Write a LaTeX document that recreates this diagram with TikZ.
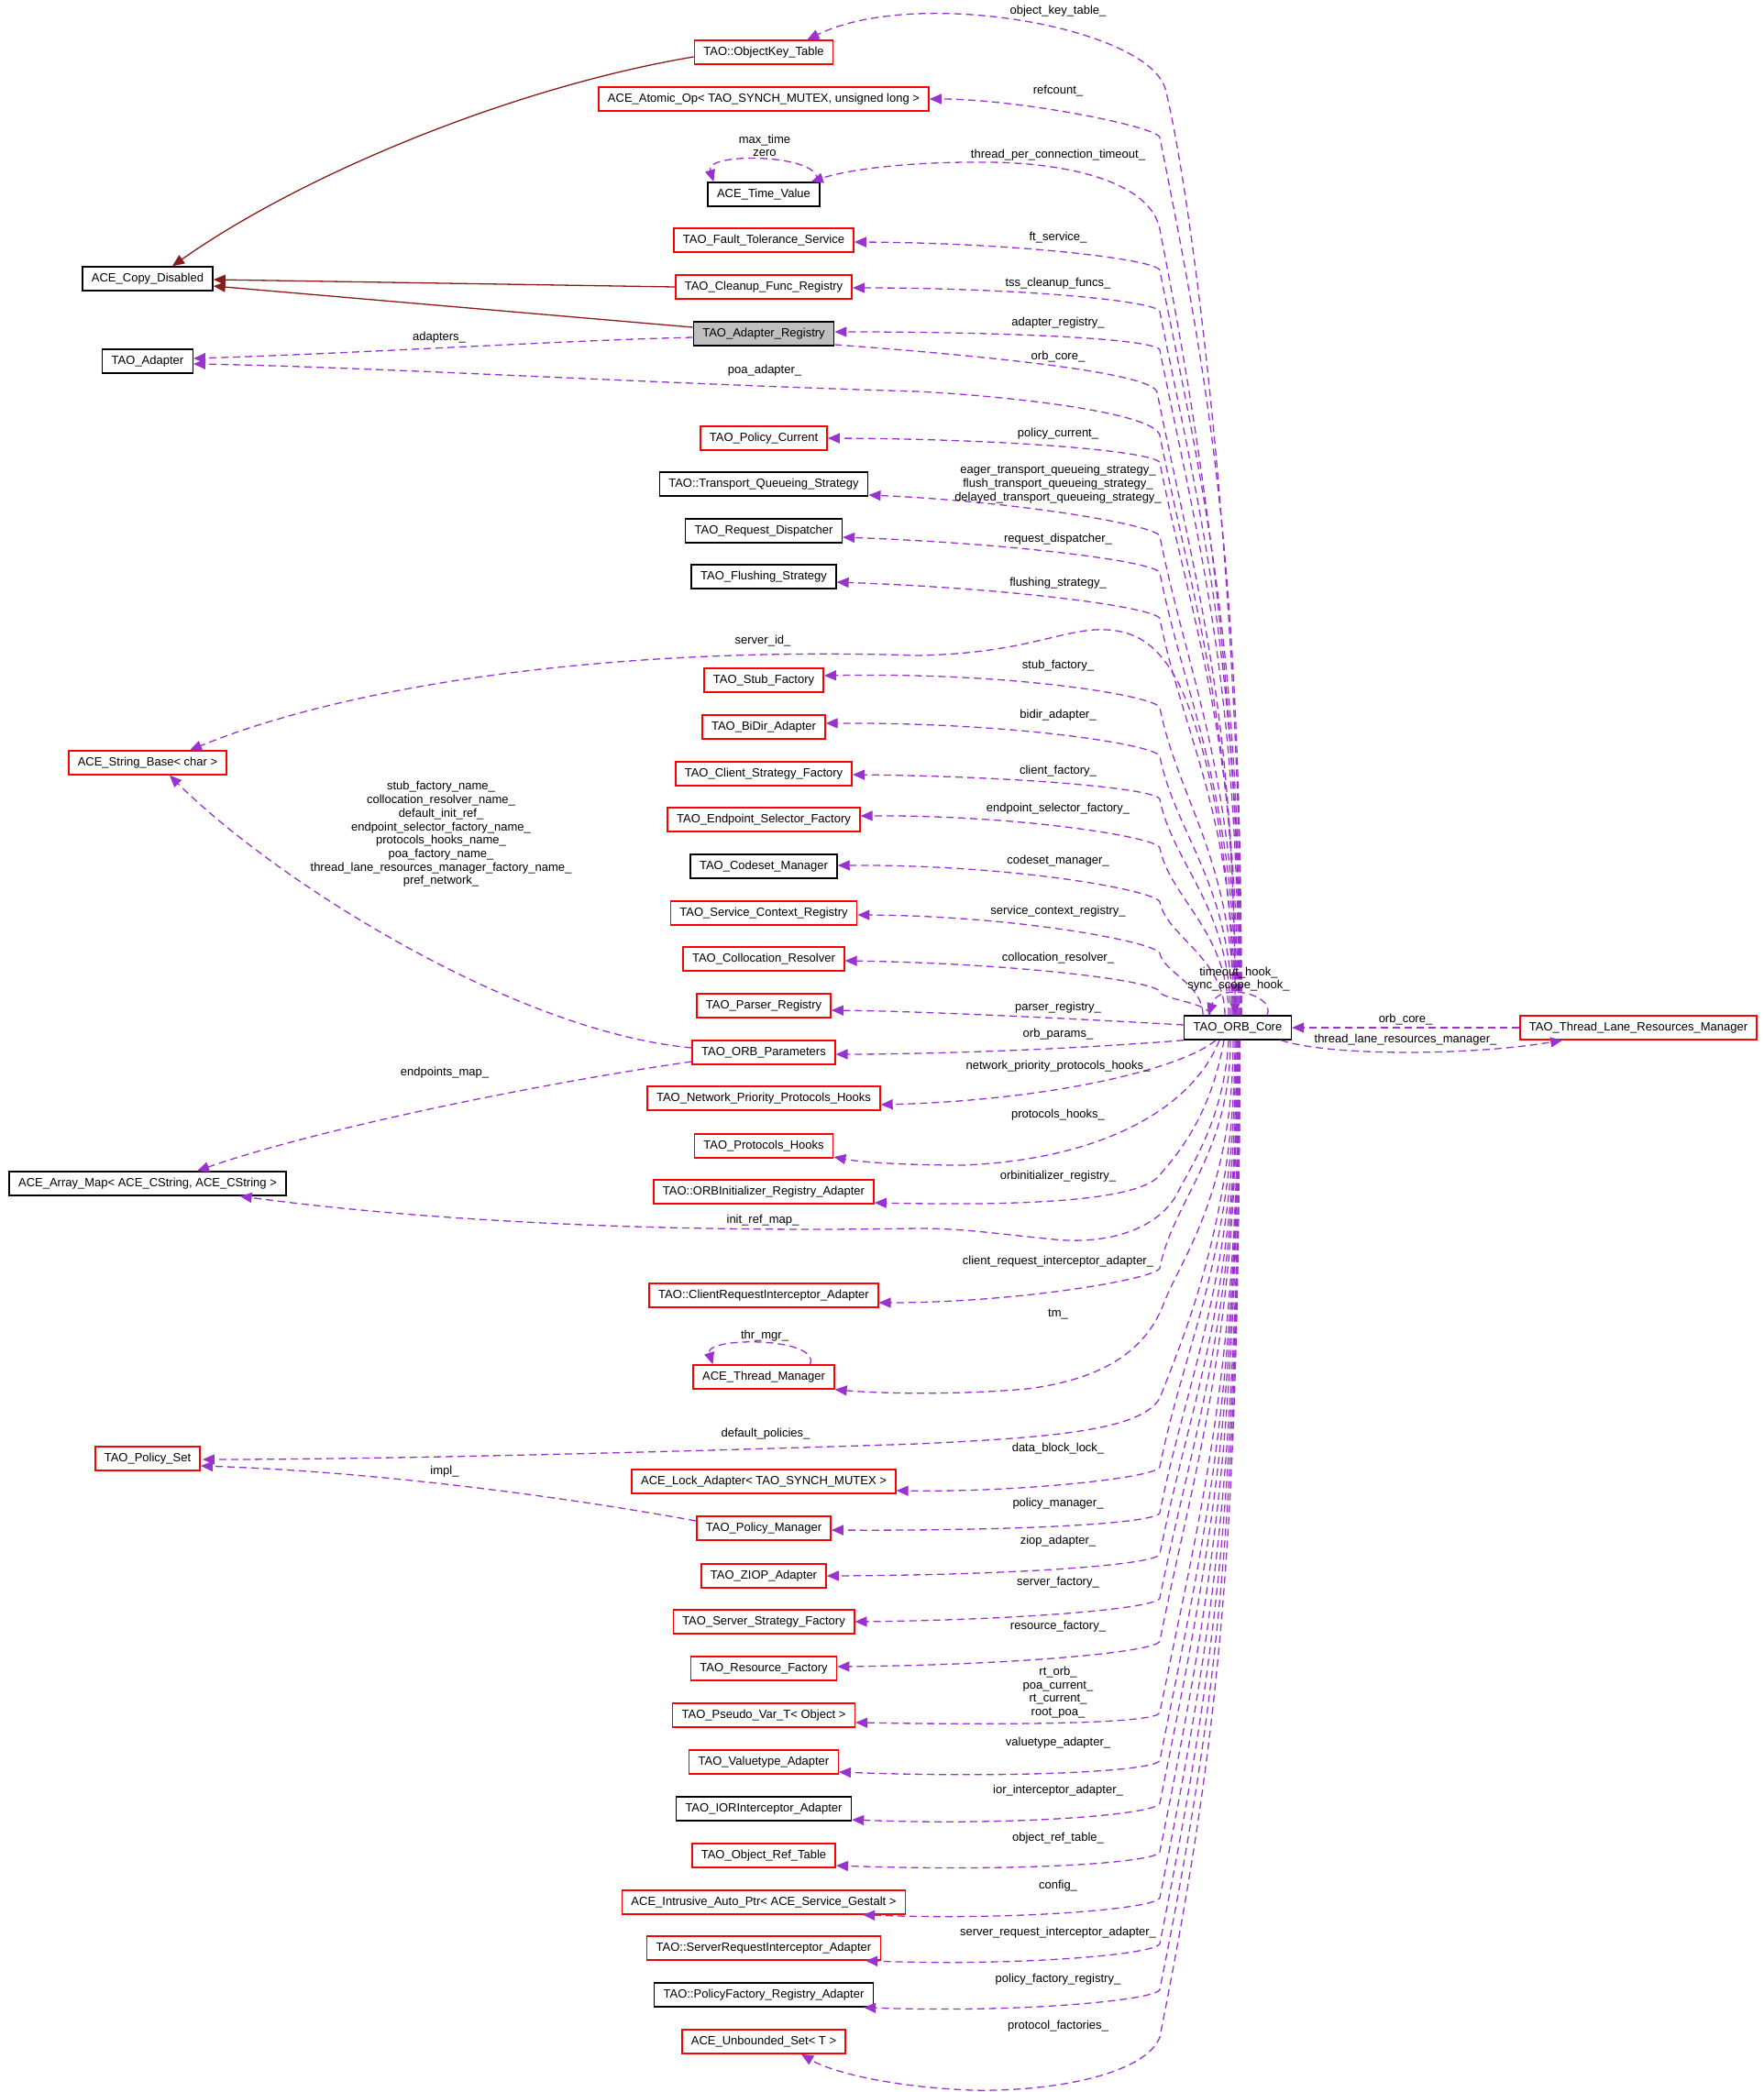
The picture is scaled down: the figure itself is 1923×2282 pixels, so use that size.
\documentclass[tikz,border=0pt]{standalone}
\usepackage{fontspec}
\setmainfont{Liberation Sans}
\usetikzlibrary{arrows.meta,calc}
\definecolor{edgepurple}{RGB}{154,50,205}
\definecolor{inhred}{RGB}{139,26,26}
\definecolor{boxgray}{RGB}{191,191,191}
\newcommand\upE[4]{\draw[mem] ($(core.north)+(#1,0)$) .. controls ($(core.north)+(#1,{-0.5*(1108-#2)})$) and ({1265+0.06*(1108-#2)},{#2+0.3*(1108-#2)}) .. (1265,#2) .. controls (1262.6,{#2-12}) and (1110,#3) .. #4;}
\newcommand\loE[4]{\draw[mem] ($(core.south)+(#1,0)$) .. controls ($(core.south)+(#1,{0.5*(#2-1134)})$) and ({1265+0.06*(#2-1134)},{#2-0.3*(#2-1134)}) .. (1265,#2) .. controls (1262.6,{#2+12}) and (1110,#3) .. #4;}
\begin{document}
\begin{tikzpicture}[x=1pt,y=-1pt,
  cls/.style={draw=black, line width=1.5pt, fill=white, minimum height=26pt, inner xsep=10pt, inner ysep=0pt, font=\fontsize{13}{15}\selectfont, text=black},
  rcls/.style={cls, draw=red},
  mem/.style={draw=edgepurple, line width=1.3pt, dash pattern=on 8pt off 5pt, -{Triangle[length=13pt,width=11pt]}},
  inh/.style={draw=inhred, line width=1.3pt, -{Triangle[length=13pt,width=11pt]}},
  lbl/.style={font=\fontsize{13}{14.7}\selectfont, inner sep=0pt, align=center, text=black}]
\fill[white] (0,0) rectangle (1923,2282);
\useasboundingbox (0,0) rectangle (1923,2282);
% nodes
\node[rcls] (okt) at (833,57) {TAO::ObjectKey\_Table};
\node[rcls] (atomic) at (833,108) {ACE\_Atomic\_Op< TAO\_SYNCH\_MUTEX, unsigned long >};
\node[cls] (tv) at (833,212) {ACE\_Time\_Value};
\node[rcls] (ft) at (833,262) {TAO\_Fault\_Tolerance\_Service};
\node[rcls] (cleanup) at (833,313) {TAO\_Cleanup\_Func\_Registry};
\node[cls, fill=boxgray] (adreg) at (833,364) {TAO\_Adapter\_Registry};
\node[cls] (copydis) at (161,304) {ACE\_Copy\_Disabled};
\node[cls] (adapter) at (161,394) {TAO\_Adapter};
\node[rcls] (polcur) at (833,478) {TAO\_Policy\_Current};
\node[cls] (tqs) at (833,528) {TAO::Transport\_Queueing\_Strategy};
\node[cls] (reqdisp) at (833,579) {TAO\_Request\_Dispatcher};
\node[cls] (flush) at (833,629) {TAO\_Flushing\_Strategy};
\node[rcls] (stub) at (833,742) {TAO\_Stub\_Factory};
\node[rcls] (bidir) at (833,793) {TAO\_BiDir\_Adapter};
\node[rcls] (clistrat) at (833,844) {TAO\_Client\_Strategy\_Factory};
\node[rcls] (endsel) at (833,894) {TAO\_Endpoint\_Selector\_Factory};
\node[cls] (codeset) at (833,945) {TAO\_Codeset\_Manager};
\node[rcls] (servctx) at (833,996) {TAO\_Service\_Context\_Registry};
\node[rcls] (colloc) at (833,1046) {TAO\_Collocation\_Resolver};
\node[rcls] (parser) at (833,1097) {TAO\_Parser\_Registry};
\node[rcls] (params) at (833,1148) {TAO\_ORB\_Parameters};
\node[rcls] (netprio) at (833,1198) {TAO\_Network\_Priority\_Protocols\_Hooks};
\node[rcls] (prothooks) at (833,1250) {TAO\_Protocols\_Hooks};
\node[rcls] (orbinit) at (833,1300) {TAO::ORBInitializer\_Registry\_Adapter};
\node[rcls] (clireq) at (833,1413) {TAO::ClientRequestInterceptor\_Adapter};
\node[rcls] (thrmgr) at (833,1502) {ACE\_Thread\_Manager};
\node[rcls] (lockad) at (833,1616) {ACE\_Lock\_Adapter< TAO\_SYNCH\_MUTEX >};
\node[rcls] (polmgr) at (833,1667) {TAO\_Policy\_Manager};
\node[rcls] (ziop) at (833,1719) {TAO\_ZIOP\_Adapter};
\node[rcls] (servstrat) at (833,1769) {TAO\_Server\_Strategy\_Factory};
\node[rcls] (resfact) at (833,1820) {TAO\_Resource\_Factory};
\node[rcls] (pseudo) at (833,1871) {TAO\_Pseudo\_Var\_T< Object >};
\node[rcls] (valuetype) at (833,1922) {TAO\_Valuetype\_Adapter};
\node[cls] (ior) at (833,1973) {TAO\_IORInterceptor\_Adapter};
\node[rcls] (objref) at (833,2024) {TAO\_Object\_Ref\_Table};
\node[rcls] (intrusive) at (833,2075) {ACE\_Intrusive\_Auto\_Ptr< ACE\_Service\_Gestalt >};
\node[rcls] (servreq) at (833,2125) {TAO::ServerRequestInterceptor\_Adapter};
\node[cls] (polfact) at (833,2176) {TAO::PolicyFactory\_Registry\_Adapter};
\node[rcls] (unbounded) at (833,2227) {ACE\_Unbounded\_Set< T >};
\node[rcls] (strbase) at (161,832) {ACE\_String\_Base< char >};
\node[cls] (arraymap) at (161,1291) {ACE\_Array\_Map< ACE\_CString, ACE\_CString >};
\node[rcls] (polset) at (161,1591) {TAO\_Policy\_Set};
\node[cls] (core) at (1350,1121) {TAO\_ORB\_Core};
\node[rcls] (tlrm) at (1787,1121) {TAO\_Thread\_Lane\_Resources\_Manager};
% inheritance
\draw[inh] ($(okt.west)+(0,5)$) .. controls (560,95) and (330,190) .. ($(copydis.north)+(27,0)$);
\draw[inh] (cleanup.west) -- ($(copydis.east)+(0,1)$);
\draw[inh] ($(adreg.west)+(0,-7)$) -- ($(copydis.east)+(0,8)$);
% special member edges
\draw[mem] ($(core.north)+(4,0)$) .. controls (1354,600) and (1295,190) .. (1271,97) .. controls (1252,30) and (1000,-15) .. ($(okt.north east)+(-29,0)$);
\draw[mem] ($(core.north)+(3,0)$) .. controls (1353,700) and (1290,380) .. (1265,250) .. controls (1255,200) and (1170,178) .. (1080,177) .. controls (990,176) and (925,185) .. ($(tv.north east)+(-10,0)$);
\draw[mem] ($(tv.north east)+(-4,0)$) .. controls (900,168) and (768,165) .. ($(tv.north west)+(7,0)$);
\draw[mem] ($(adreg.east)+(0,12)$) .. controls (1100,390) and (1258,408) .. (1262,428) .. controls (1303,632) and (1347,768) .. ($(core.north)+(-3,0)$);
\draw[mem] ($(adreg.west)+(0,4)$) .. controls (600,372) and (400,385) .. ($(adapter.east)+(0,-3)$);
\draw[mem] ($(core.north)+(-2,0)$) .. controls (1348,792) and (1303,665) .. (1265,475) .. controls (1260,450) and (1100,432) .. (1000,427) .. controls (700,418) and (400,400) .. ($(adapter.east)+(0,3)$);
\draw[mem] ($(core.north)+(-5,0)$) .. controls (1345,900) and (1305,790) .. (1290,755) .. controls (1265,700) and (1235,685) .. (1194,687) .. controls (1150,690) and (1110,713) .. (1000,715) .. controls (700,705) and (400,740) .. ($(strbase.north)+(46,0)$);
\draw[mem] ($(params.west)+(0,-5)$) .. controls (560,1125) and (300,960) .. ($(strbase.south)+(24,0)$);
\draw[mem] ($(params.west)+(0,10)$) .. controls (600,1180) and (350,1230) .. ($(arraymap.north)+(54,0)$);
\draw[mem] ($(core.west)+(0,-3)$) .. controls (1150,1110) and (1000,1103) .. ($(parser.east)+(0,5)$);
\draw[mem] (core.south west) .. controls (1150,1146) and (1000,1150) .. ($(params.east)+(0,2)$);
\draw[mem] ($(core.south)+(-24,0)$) .. controls (1290,1165) and (1150,1200) .. ($(netprio.east)+(0,7)$);
\draw[mem] ($(core.south)+(-20,0)$) .. controls (1300,1210) and (1200,1265) .. (1050,1271) .. controls (990,1271) and (940,1268) .. ($(prothooks.east)+(0,12)$);
\draw[mem] ($(core.south)+(-15,0)$) .. controls (1320,1220) and (1282,1262) .. (1262,1285) .. controls (1230,1312) and (1100,1315) .. ($(orbinit.east)+(0,12)$);
\draw[mem] ($(core.south)+(-10,0)$) .. controls (1335,1220) and (1300,1270) .. (1285,1300) .. controls (1265,1340) and (1210,1358) .. (1150,1352) .. controls (1080,1345) and (1050,1340) .. (1000,1340) .. controls (700,1345) and (450,1330) .. ($(arraymap.south east)+(-51,0)$);
\draw[mem] ($(core.south)+(-5,0)$) .. controls (1345,1300) and (1290,1370) .. (1270,1420) .. controls (1250,1475) and (1200,1505) .. (1120,1515) .. controls (1040,1522) and (960,1520) .. (thrmgr.south east);
\draw[mem] ($(thrmgr.north east)+(-27,0)$) .. controls (895,1458) and (768,1458) .. ($(thrmgr.north west)+(22,0)$);
\draw[mem] ($(core.south)+(-3,0)$) .. controls (1347,1330) and (1290,1460) .. (1265,1525) .. controls (1245,1560) and (1150,1568) .. (1000,1575) .. controls (700,1585) and (400,1592) .. ($(polset.east)+(2,1)$);
\draw[mem] ($(polmgr.west)+(0,-8)$) .. controls (600,1630) and (400,1605) .. ($(polset.east)+(0,8)$);
\draw[mem] ($(core.south)+(2,0)$) .. controls (1352,1678) and (1330,1896) .. (1265,2222) .. controls (1250,2262) and (1150,2282) .. (1060,2280) .. controls (980,2277) and (910,2262) .. ($(unbounded.south)+(41,0)$);
\draw[mem] ($(core.north east)+(-27,0)$) .. controls (1392,1085) and (1330,1070) .. ($(core.north west)+(27,0)$);
\draw[mem] (tlrm.west) -- (core.east);
\draw[mem] ($(core.south east)+(-12,0)$) .. controls (1450,1152) and (1600,1152) .. ($(tlrm.south west)+(47,0)$);
% standard upper member edges
\upE{4}{150}{108}{(atomic.east)}
\upE{3}{295}{265}{($(ft.east)+(0,2)$)}
\upE{2}{340}{314}{($(cleanup.east)+(0,1)$)}
\upE{1}{382}{362}{($(adreg.east)+(0,-2)$)}
\upE{0}{505}{479}{(polcur.east)}
\upE{-1}{585}{547}{($(tqs.east)+(0,12)$)}
\upE{-2}{625}{593}{($(reqdisp.east)+(0,7)$)}
\upE{-3}{675}{642}{($(flush.east)+(0,6)$)}
\upE{-4}{772}{733}{($(stub.east)+(0,-5)$)}
\upE{-6}{825}{788}{($(bidir.east)+(0,-4)$)}
\upE{-8}{872}{847}{($(clistrat.east)+(0,1)$)}
\upE{-10}{925}{889}{($(endsel.east)+(0,-4)$)}
\upE{-14}{984}{943}{($(codeset.east)+(0,-1)$)}
\upE{-38}{1040}{999}{($(servctx.east)+(0,2)$)}
\upE{-30}{1082}{1051}{($(colloc.east)+(0,2)$)}
% standard lower member edges
\loE{-8}{1383}{1421}{($(clireq.east)+(0,8)$)}
\loE{-2}{1600}{1628}{($(lockad.east)+(0,10)$)}
\loE{-1}{1650}{1670}{($(polmgr.east)+(0,2)$)}
\loE{0}{1695}{1718}{(ziop.east)}
\loE{0}{1743}{1767}{(servstrat.east)}
\loE{0}{1790}{1816}{($(resfact.east)+(0,-2)$)}
\loE{1}{1868}{1882}{($(pseudo.east)+(0,8)$)}
\loE{1}{1920}{1940}{($(valuetype.east)+(0,11)$)}
\loE{1}{1967}{1992}{($(ior.east)+(0,12)$)}
\loE{1}{2020}{2042}{($(objref.east)+(0,11)$)}
\loE{2}{2070}{2095}{($(intrusive.south east)+(-47,0)$)}
\loE{2}{2120}{2145}{($(servreq.south east)+(-17,0)$)}
\loE{2}{2170}{2196}{($(polfact.south east)+(-11,0)$)}
% labels
\node[lbl] (l1) at (1154,12) {object\_key\_table\_};
\node[lbl] (l2) at (1154,99) {refcount\_};
\node[lbl] (l3) at (1154,169) {thread\_per\_connection\_timeout\_};
\node[lbl] (l4) at (834,159) {max\_time\\zero};
\node[lbl] (l5) at (1154,259) {ft\_service\_};
\node[lbl] (l6) at (1154,309) {tss\_cleanup\_funcs\_};
\node[lbl] (l7) at (1154,352) {adapter\_registry\_};
\node[lbl] (l8) at (1154,389) {orb\_core\_};
\node[lbl] (l9) at (479,368) {adapters\_};
\node[lbl] (l10) at (834,404) {poa\_adapter\_};
\node[lbl] (l11) at (1154,473) {policy\_current\_};
\node[lbl] (l12) at (1154,528) {eager\_transport\_queueing\_strategy\_\\flush\_transport\_queueing\_strategy\_\\delayed\_transport\_queueing\_strategy\_};
\node[lbl] (l13) at (1154,588) {request\_dispatcher\_};
\node[lbl] (l14) at (1154,636) {flushing\_strategy\_};
\node[lbl] (l15) at (832,699) {server\_id\_};
\node[lbl] (l16) at (1154,726) {stub\_factory\_};
\node[lbl] (l17) at (1154,780) {bidir\_adapter\_};
\node[lbl] (l18) at (1154,841) {client\_factory\_};
\node[lbl] (l19) at (1154,882) {endpoint\_selector\_factory\_};
\node[lbl] (l20) at (481,910) {stub\_factory\_name\_\\collocation\_resolver\_name\_\\default\_init\_ref\_\\endpoint\_selector\_factory\_name\_\\protocols\_hooks\_name\_\\poa\_factory\_name\_\\thread\_lane\_resources\_manager\_factory\_name\_\\pref\_network\_};
\node[lbl] (l21) at (1154,939) {codeset\_manager\_};
\node[lbl] (l22) at (1154,994) {service\_context\_registry\_};
\node[lbl] (l23) at (1154,1045) {collocation\_resolver\_};
\node[lbl] (l24) at (1351,1068) {timeout\_hook\_\\sync\_scope\_hook\_};
\node[lbl] (l25) at (1154,1099) {parser\_registry\_};
\node[lbl] (l26) at (1154,1128) {orb\_params\_};
\node[lbl] (l27) at (1533,1112) {orb\_core\_};
\node[lbl] (l28) at (1533,1134) {thread\_lane\_resources\_manager\_};
\node[lbl] (l29) at (1154,1163) {network\_priority\_protocols\_hooks\_};
\node[lbl] (l30) at (485,1170) {endpoints\_map\_};
\node[lbl] (l31) at (1154,1216) {protocols\_hooks\_};
\node[lbl] (l32) at (1154,1283) {orbinitializer\_registry\_};
\node[lbl] (l33) at (832,1331) {init\_ref\_map\_};
\node[lbl] (l34) at (1154,1376) {client\_request\_interceptor\_adapter\_};
\node[lbl] (l35) at (1154,1434) {tm\_};
\node[lbl] (l36) at (834,1457) {thr\_mgr\_};
\node[lbl] (l37) at (835,1564) {default\_policies\_};
\node[lbl] (l38) at (1154,1580) {data\_block\_lock\_};
\node[lbl] (l39) at (485,1605) {impl\_};
\node[lbl] (l40) at (1154,1640) {policy\_manager\_};
\node[lbl] (l41) at (1154,1681) {ziop\_adapter\_};
\node[lbl] (l42) at (1154,1726) {server\_factory\_};
\node[lbl] (l43) at (1154,1774) {resource\_factory\_};
\node[lbl] (l44) at (1154,1846) {rt\_orb\_\\poa\_current\_\\rt\_current\_\\root\_poa\_};
\node[lbl] (l45) at (1154,1901) {valuetype\_adapter\_};
\node[lbl] (l46) at (1154,1953) {ior\_interceptor\_adapter\_};
\node[lbl] (l47) at (1154,2005) {object\_ref\_table\_};
\node[lbl] (l48) at (1154,2057) {config\_};
\node[lbl] (l49) at (1154,2108) {server\_request\_interceptor\_adapter\_};
\node[lbl] (l50) at (1154,2159) {policy\_factory\_registry\_};
\node[lbl] (l51) at (1154,2210) {protocol\_factories\_};
\end{tikzpicture}
\end{document}
